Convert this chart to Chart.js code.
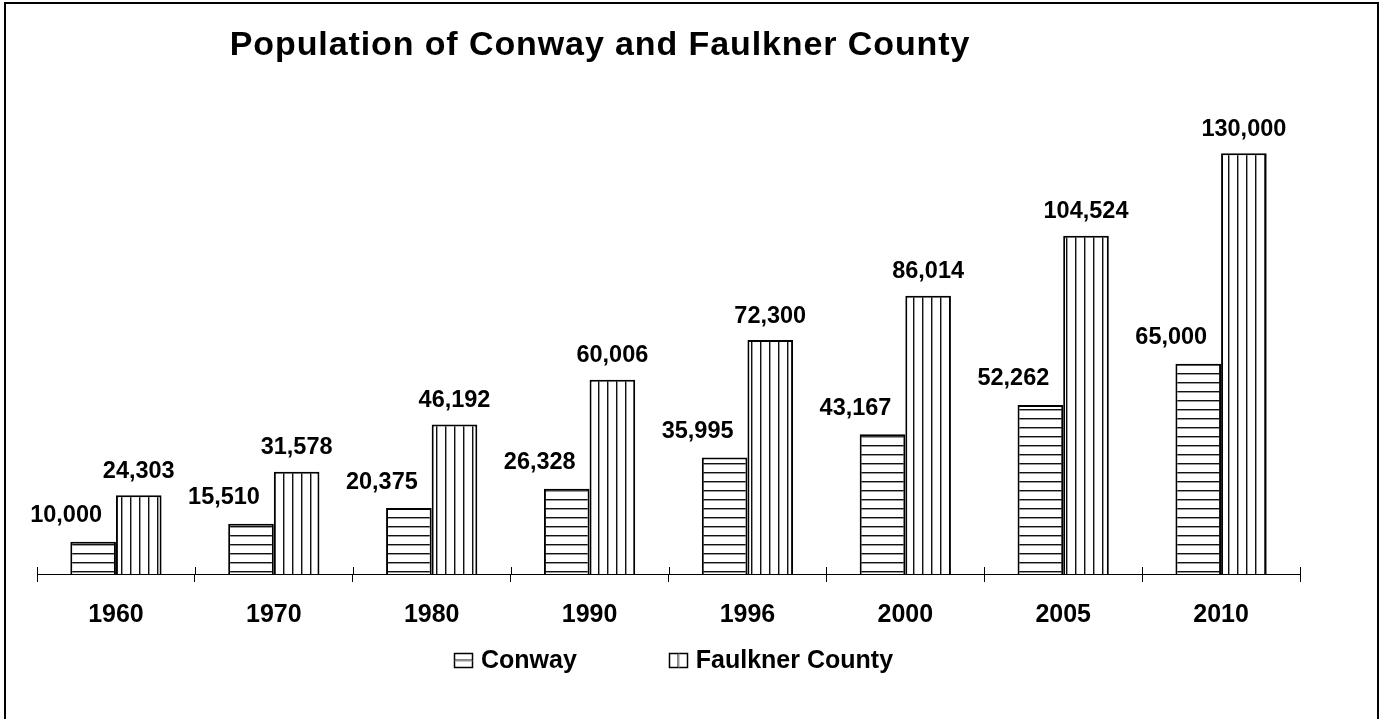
<!DOCTYPE html>
<html>
<head>
<meta charset="utf-8">
<title>Population of Conway and Faulkner County</title>
<script src="https://cdn.jsdelivr.net/npm/chart.js@4.4.1/dist/chart.umd.min.js"></script>
<style>
    body { margin: 0; background: #fff; }
    #wrap { position: relative; width: 1384px; height: 719px; overflow: hidden; }
    #marco {
        position: absolute; left: 4px; top: 2px; width: 1371px; height: 740px;
        border: 2px solid #000; pointer-events: none;
    }
    canvas { position: absolute; left: 0; top: 0; }
</style>
</head>
<body>
<div id="wrap">
    <canvas id="grafico" width="1384" height="719"></canvas>
    <div id="marco"></div>
</div>
<script>
// Datos del gráfico
const titulo = 'Population of Conway and Faulkner County';
const anios = ['1960', '1970', '1980', '1990', '1996', '2000', '2005', '2010'];
const series = ['Conway', 'Faulkner County'];
const conway = [10000, 15510, 20375, 26328, 35995, 43167, 52262, 65000];
const faulkner = [24303, 31578, 46192, 60006, 72300, 86014, 104524, 130000];

const FUENTE = "'Liberation Sans', Arial, sans-serif";

// Crea un patrón de rayas (h = horizontales, v = verticales)
function crearRayado(tipo) {
    const c = document.createElement('canvas');
    c.width = 9;
    c.height = 9;
    const g = c.getContext('2d');
    g.fillStyle = '#fff';
    g.fillRect(0, 0, 9, 9);
    if (tipo === 'h') {
        g.fillStyle = '#111';
        g.fillRect(0, 4, 9, 1);
        g.fillStyle = '#999';
        g.fillRect(0, 5, 9, 1);
    } else {
        g.fillStyle = '#111';
        g.fillRect(4, 0, 1, 9);
        g.fillStyle = '#999';
        g.fillRect(5, 0, 1, 9);
    }
    return g.createPattern(c, 'repeat');
}

const rayaH = crearRayado('h');
const rayaV = crearRayado('v');

// Título, etiquetas de valores, leyenda y marcas del eje
const extras = {
    id: 'extras',
    afterDatasetsDraw(chart) {
        const ctx = chart.ctx;
        ctx.save();
        ctx.fillStyle = '#000';
        ctx.font = 'bold 23.5px ' + FUENTE;
        ctx.textAlign = 'center';
        ctx.textBaseline = 'middle';
        chart.data.datasets.forEach((ds, i) => {
            const meta = chart.getDatasetMeta(i);
            meta.data.forEach((barra, j) => {
                const texto = ds.data[j].toLocaleString('en-US');
                ctx.fillText(texto, barra.x + ds.etiquetaDx, barra.y - ds.etiquetaDy);
            });
        });

        // marcas que cruzan el eje
        const x = chart.scales.x;
        const paso = (x.right - x.left) / anios.length;
        ctx.strokeStyle = '#000';
        ctx.lineWidth = 1;
        for (let i = 0; i <= anios.length; i++) {
            const px = Math.round(x.left + i * paso) + 0.5;
            ctx.beginPath();
            ctx.moveTo(px, x.top - 7);
            ctx.lineTo(px, x.top);
            ctx.stroke();
        }
        ctx.restore();
    },
    afterDraw(chart) {
        const ctx = chart.ctx;
        const area = chart.chartArea;
        ctx.save();
        ctx.fillStyle = '#000';

        // título
        ctx.font = 'bold 34px ' + FUENTE;
        ctx.letterSpacing = '0.9px';
        ctx.textAlign = 'center';
        ctx.textBaseline = 'alphabetic';
        ctx.fillText(titulo, 600, 55);
        ctx.letterSpacing = '0px';

        // leyenda
        ctx.font = 'bold 25px ' + FUENTE;
        ctx.textAlign = 'left';
        ctx.textBaseline = 'middle';
        const caja = 18, alto = 14, hueco = 9, separacion = 92, yLeyenda = 660;
        const anchos = series.map(s => caja + hueco + ctx.measureText(s).width);
        const total = anchos[0] + separacion + anchos[1];
        let cx = (area.left + area.right) / 2 + 5 - total / 2;
        series.forEach((s, i) => {
            const bx = Math.round(cx) + 0.5, by = Math.round(yLeyenda - alto / 2) + 0.5;
            ctx.fillStyle = '#fff';
            ctx.fillRect(bx, by, caja, alto);
            ctx.strokeStyle = '#000';
            ctx.lineWidth = 1.5;
            ctx.strokeRect(bx, by, caja, alto);
            if (i === 0) {
                ctx.fillStyle = '#111';
                ctx.fillRect(bx, by + alto / 2 - 1, caja, 1);
                ctx.fillStyle = '#999';
                ctx.fillRect(bx, by + alto / 2, caja, 1);
            } else {
                ctx.fillStyle = '#111';
                ctx.fillRect(bx + caja / 2 - 1, by, 1, alto);
                ctx.fillStyle = '#999';
                ctx.fillRect(bx + caja / 2, by, 1, alto);
            }
            ctx.fillStyle = '#000';
            ctx.fillText(s, cx + caja + hueco, yLeyenda + 1);
            cx += anchos[i] + separacion;
        });
        ctx.restore();
    }
};

const grafico = new Chart(document.getElementById('grafico'), {
    type: 'bar',
    data: {
        labels: anios,
        datasets: [
            {
                label: series[0],
                data: conway,
                backgroundColor: rayaH,
                borderColor: '#000',
                borderWidth: 2,
                etiquetaDx: -27,
                etiquetaDy: 26
            },
            {
                label: series[1],
                data: faulkner,
                backgroundColor: rayaV,
                borderColor: '#000',
                borderWidth: 2,
                etiquetaDx: 0,
                etiquetaDy: 24
            }
        ]
    },
    options: {
        responsive: false,
        animation: false,
        layout: {
            padding: { left: 37, right: 84, top: 121, bottom: 71 }
        },
        datasets: {
            bar: {
                categoryPercentage: 0.578,
                barPercentage: 1.0
            }
        },
        scales: {
            x: {
                grid: {
                    offset: true,
                    drawOnChartArea: false,
                    color: '#000',
                    tickLength: 8
                },
                border: { color: '#000', width: 1 },
                ticks: {
                    color: '#000',
                    padding: 18,
                    font: { family: FUENTE, size: 25, weight: 'bold' }
                }
            },
            y: {
                display: false,
                min: 0,
                max: 140000
            }
        },
        plugins: {
            legend: { display: false },
            title: { display: false },
            tooltip: { enabled: false }
        }
    },
    plugins: [extras]
});
</script>
</body>
</html>
